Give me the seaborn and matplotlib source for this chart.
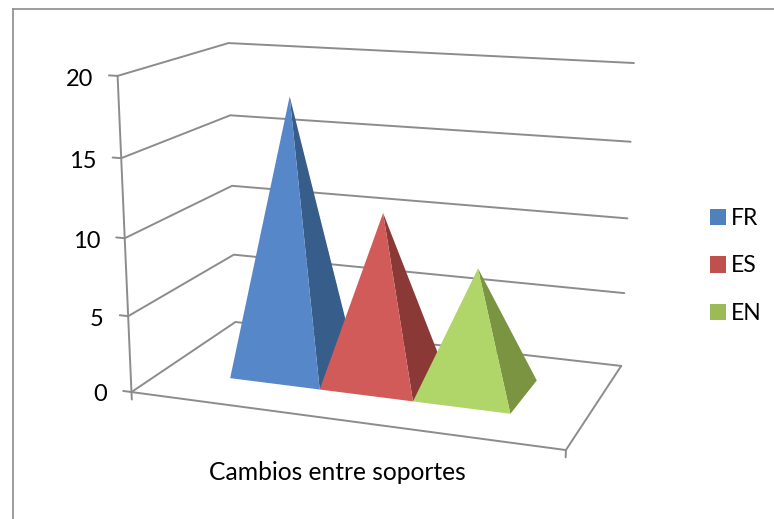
import numpy as np
import matplotlib
matplotlib.use('Agg')
import matplotlib.pyplot as plt
from matplotlib.patches import Patch, Polygon
import seaborn as sns

# chart data
categories = ['Cambios entre soportes']
series_names = ['FR', 'ES', 'EN']
series_values = [18, 11, 8]
y_ticks = [0, 5, 10, 15, 20]

legend_colors = ['#4F81BD', '#C0504D', '#9BBB59']
front_colors = ['#5587C9', '#D15B58', '#B0D568']
side_colors = ['#375D8A', '#8A3937', '#7A9441']
line_color = '#8C8C8C'

# where the box corners (u, depth, value) land on the image, used to fit the projection
box_corners = [(0, 0, 0), (0, 0, 20), (0, 1, 0), (0, 1, 20), (1, 1, 0), (1, 1, 20), (1, 0, 0)]
box_pixels = [(131, 392), (118, 76), (236, 322), (228, 43), (621, 366), (634, 63), (566, 450)]

bar_width = 0.223
group_center = 0.504
base_front = 0.29
base_back = 0.70


def fit_projection(corners, pixels):
    rows, rhs = [], []
    for (u, w, v), (x, y) in zip(corners, pixels):
        v = v / 20
        rows.append([u, w, v, 1, 0, 0, 0, 0, -x * u, -x * w, -x * v])
        rhs.append(x)
        rows.append([0, 0, 0, 0, u, w, v, 1, -y * u, -y * w, -y * v])
        rhs.append(y)
    p = np.linalg.lstsq(np.array(rows, float), np.array(rhs, float), rcond=None)[0]
    return np.append(p, 1).reshape(3, 4)


matrix = fit_projection(box_corners, box_pixels)


def project(u, w, v):
    x, y, z = matrix @ np.array([u, w, v / 20, 1])
    return x / z, y / z


def draw_line(ax, points):
    xs, ys = zip(*[project(*p) for p in points])
    sns.lineplot(x=list(xs), y=list(ys), sort=False, estimator=None, color=line_color,
                 linewidth=1.4, ax=ax, legend=False, zorder=1)


sns.set_theme(style='white')
plt.rcParams['font.family'] = ['Lato', 'DejaVu Sans']

fig = plt.figure(figsize=(7.74, 5.19), dpi=100)
ax = fig.add_axes([13 / 774, 0, 761 / 774, 510 / 519])
ax.set_xlim(13, 774)
ax.set_ylim(519, 9)
ax.set_xticks([])
ax.set_yticks([])
for side in ['right', 'bottom']:
    ax.spines[side].set_visible(False)
for side in ['left', 'top']:
    ax.spines[side].set_color(line_color)
    ax.spines[side].set_linewidth(1.2)

# walls, floor and ticks
for tick in y_ticks:
    draw_line(ax, [(0, 0, tick), (0, 1, tick), (1, 1, tick)])
    draw_line(ax, [(-0.021, 0, tick), (0, 0, tick)])
    x, y = project(-0.021, 0, tick)
    ax.annotate(str(tick), (x, y), xytext=(-16, -4), textcoords='offset pixels',
                ha='right', va='center', fontsize=17, color='black')
draw_line(ax, [(0, 0, 20), (0, 0, -0.5)])
draw_line(ax, [(0, 0, 0), (1, 0, 0), (1, 1, 0)])
draw_line(ax, [(1, 0, 0), (1, 0, -0.45)])

# pyramids
n = len(series_names)
for i, value in enumerate(series_values):
    center = group_center + (i - (n - 1) / 2) * bar_width
    left, right = center - bar_width / 2, center + bar_width / 2
    apex = project(center, (base_front + base_back) / 2, value)
    front = [project(left, base_front, 0), project(right, base_front, 0), apex]
    side = [project(right, base_front, 0), project(right, base_back, 0), apex]
    ax.add_patch(Polygon(side, closed=True, facecolor=side_colors[i], edgecolor='none', zorder=2 + i))
    ax.add_patch(Polygon(front, closed=True, facecolor=front_colors[i], edgecolor='none', zorder=2 + i))

ax.text(337.5, 472, categories[0], ha='center', va='center', fontsize=17.7, color='black')

handles = [Patch(facecolor=c, edgecolor='none', label=s) for c, s in zip(legend_colors, series_names)]
ax.legend(handles=handles, loc='center left', bbox_to_anchor=(696, 266), bbox_transform=ax.transData,
          frameon=False, fontsize=16.5, handlelength=0.72, handleheight=0.72, handletextpad=0.2,
          labelspacing=1.17, labelcolor='black', borderpad=0, borderaxespad=0.6)

fig.savefig('out.png', dpi=100)
plt.close(fig)
